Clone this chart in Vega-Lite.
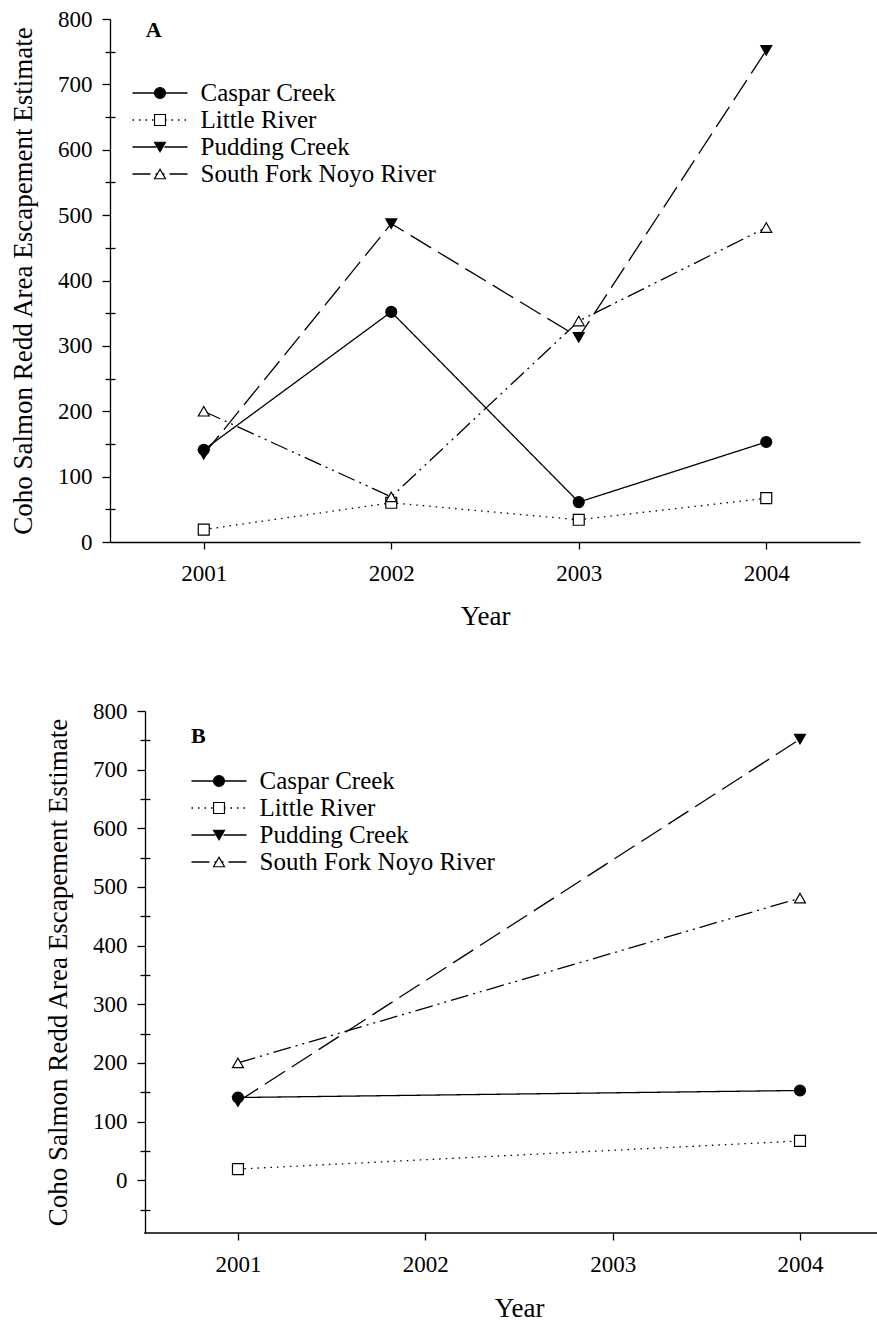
{
  "$schema": "https://vega.github.io/schema/vega-lite/v6.json",
  "background": "white",
  "padding": {"left": 9, "top": 8, "right": 0, "bottom": 0},
  "spacing": 71,
  "config": {
    "font": "Liberation Serif",
    "view": {"stroke": null},
    "style": {"guide-label": {"font": "Liberation Serif"}, "guide-title": {"font": "Liberation Serif"}},
    "axis": {
      "grid": false,
      "domainColor": "black",
      "tickColor": "black",
      "labelColor": "black",
      "titleColor": "black",
      "labelFont": "Liberation Serif",
      "titleFont": "Liberation Serif",
      "titleFontWeight": "normal",
      "labelFontSize": 23,
      "titleFontSize": 27,
      "domainWidth": 1.3,
      "tickWidth": 1.3
    },
    "legend": {
      "labelFont": "Liberation Serif",
      "labelFontSize": 25,
      "labelColor": "black",
      "labelLimit": 400
    }
  },
  "datasets": {
    "escapement": [
      {"year": 2001, "site": "Caspar Creek", "value": 141},
      {"year": 2002, "site": "Caspar Creek", "value": 352},
      {"year": 2003, "site": "Caspar Creek", "value": 61},
      {"year": 2004, "site": "Caspar Creek", "value": 153},
      {"year": 2001, "site": "Little River", "value": 19},
      {"year": 2002, "site": "Little River", "value": 60},
      {"year": 2003, "site": "Little River", "value": 34},
      {"year": 2004, "site": "Little River", "value": 67},
      {"year": 2001, "site": "Pudding Creek", "value": 134},
      {"year": 2002, "site": "Pudding Creek", "value": 487},
      {"year": 2003, "site": "Pudding Creek", "value": 313},
      {"year": 2004, "site": "Pudding Creek", "value": 752},
      {"year": 2001, "site": "South Fork Noyo River", "value": 200},
      {"year": 2002, "site": "South Fork Noyo River", "value": 69},
      {"year": 2003, "site": "South Fork Noyo River", "value": 338},
      {"year": 2004, "site": "South Fork Noyo River", "value": 481}
    ]
  },
  "resolve": {"scale": {"strokeDash": "independent", "shape": "independent", "fill": "independent", "stroke": "independent"}},
  "vconcat": [
    {
      "width": 750,
      "height": 523,
      "data": {"name": "escapement"},
      "layer": [
        {
          "mark": {"type": "line", "color": "black", "strokeWidth": 1.3},
          "encoding": {
            "x": {"field": "year", "type": "quantitative",
              "scale": {"domain": [2000.5, 2004.5], "nice": false, "zero": false},
              "axis": {"values": [2001, 2002, 2003, 2004], "format": "d", "tickSize": 7, "labelPadding": 13, "labelFont": "Liberation Serif", "title": "Year", "titleFont": "Liberation Serif", "titlePadding": 18}},
            "y": {"field": "value", "type": "quantitative",
              "scale": {"domain": [0, 800], "nice": false},
              "axis": {"orient": "left", "values": [0, 100, 200, 300, 400, 500, 600, 700, 800], "tickSize": 8, "labelPadding": 10, "labelFont": "Liberation Serif", "title": "Coho Salmon Redd Area Escapement Estimate", "titleFont": "Liberation Serif", "titlePadding": 20}},
            "strokeDash": {"field": "site", "type": "nominal",
              "scale": {"domain": ["Caspar Creek", "Little River", "Pudding Creek", "South Fork Noyo River"], "range": [[1, 0], [1.5, 5], [24, 8], [18, 5, 2, 5, 2, 5]]},
              "legend": {"orient": "none", "legendX": 21.5, "legendY": 60.5, "title": null, "symbolType": "stroke", "symbolSize": 3025, "symbolStrokeWidth": 1.3, "symbolStrokeColor": "black", "clipHeight": 27, "rowPadding": 0, "labelOffset": 12}}
          }
        },
        {
          "mark": {"type": "point", "filled": true, "strokeWidth": 1.2, "size": 120, "opacity": 1},
          "encoding": {
            "x": {"field": "year", "type": "quantitative"},
            "y": {"field": "value", "type": "quantitative",
              "axis": {"orient": "left", "values": [50, 150, 250, 350, 450, 550, 650, 750], "tickSize": 10, "offset": -5, "labels": false, "domain": false, "title": null}},
            "shape": {"field": "site", "type": "nominal",
              "scale": {"range": ["circle", "square", "triangle-down", "triangle-up"]},
              "legend": {"orient": "none", "legendX": 43.5, "legendY": 60.5, "title": null, "symbolSize": 120, "symbolStrokeWidth": 1.2, "clipHeight": 27, "rowPadding": 0, "labelFontSize": 1, "labelExpr": "''"}},
            "fill": {"field": "site", "type": "nominal",
              "scale": {"range": ["black", "white", "black", "white"]},
              "legend": {"orient": "none", "legendX": 43.5, "legendY": 60.5, "title": null, "symbolSize": 120, "symbolStrokeWidth": 1.2, "clipHeight": 27, "rowPadding": 0, "labelFontSize": 1, "labelExpr": "''"}},
            "stroke": {"field": "site", "type": "nominal",
              "scale": {"range": ["black", "black", "black", "black"]},
              "legend": {"orient": "none", "legendX": 43.5, "legendY": 60.5, "title": null, "symbolSize": 120, "symbolStrokeWidth": 1.2, "clipHeight": 27, "rowPadding": 0, "labelFontSize": 1, "labelExpr": "''"}}
          }
        },
        {
          "data": {"values": [{}]},
          "mark": {"type": "text", "text": "A", "font": "Liberation Serif", "fontSize": 22, "fontWeight": "bold", "align": "left", "baseline": "alphabetic", "color": "black"},
          "encoding": {
            "x": {"datum": 2000.69},
            "y": {"datum": 772, "axis": null}
          }
        }
      ],
      "resolve": {"axis": {"y": "independent"}}
    },
    {
      "width": 767,
      "height": 522,
      "data": {"name": "escapement"},
      "transform": [{"filter": {"field": "year", "oneOf": [2001, 2004]}}],
      "layer": [
        {
          "mark": {"type": "line", "color": "black", "strokeWidth": 1.3},
          "encoding": {
            "x": {"field": "year", "type": "quantitative",
              "scale": {"domain": [2000.317, 2004.411], "nice": false, "zero": false},
              "axis": {"values": [2001, 2002, 2003, 2004], "format": "d", "domain": false, "tickSize": 7, "labelPadding": 13, "labelFont": "Liberation Serif", "title": "Year", "titleFont": "Liberation Serif", "titlePadding": 19, "titleX": 409}},
            "y": {"field": "value", "type": "quantitative",
              "scale": {"domain": [-90, 800], "nice": false},
              "axis": {"orient": "left", "offset": -35, "values": [0, 100, 200, 300, 400, 500, 600, 700, 800], "tickSize": 8, "labelPadding": 10, "labelFont": "Liberation Serif", "title": "Coho Salmon Redd Area Escapement Estimate", "titleFont": "Liberation Serif", "titlePadding": 20}},
            "strokeDash": {"field": "site", "type": "nominal",
              "scale": {"domain": ["Caspar Creek", "Little River", "Pudding Creek", "South Fork Noyo River"], "range": [[1, 0], [1.5, 5], [24, 8], [18, 5, 2, 5, 2, 5]]},
              "legend": {"orient": "none", "legendX": 80.5, "legendY": 56.5, "title": null, "symbolType": "stroke", "symbolSize": 3025, "symbolStrokeWidth": 1.3, "symbolStrokeColor": "black", "clipHeight": 27, "rowPadding": 0, "labelOffset": 12}}
          }
        },
        {
          "mark": {"type": "point", "filled": true, "strokeWidth": 1.2, "size": 120, "opacity": 1},
          "encoding": {
            "x": {"field": "year", "type": "quantitative"},
            "y": {"field": "value", "type": "quantitative",
              "axis": {"orient": "left", "offset": -40, "values": [-50, 50, 150, 250, 350, 450, 550, 650, 750], "tickSize": 10, "labels": false, "domain": false, "title": null}},
            "shape": {"field": "site", "type": "nominal",
              "scale": {"range": ["circle", "square", "triangle-down", "triangle-up"]},
              "legend": {"orient": "none", "legendX": 102.5, "legendY": 56.5, "title": null, "symbolSize": 120, "symbolStrokeWidth": 1.2, "clipHeight": 27, "rowPadding": 0, "labelFontSize": 1, "labelExpr": "''"}},
            "fill": {"field": "site", "type": "nominal",
              "scale": {"range": ["black", "white", "black", "white"]},
              "legend": {"orient": "none", "legendX": 102.5, "legendY": 56.5, "title": null, "symbolSize": 120, "symbolStrokeWidth": 1.2, "clipHeight": 27, "rowPadding": 0, "labelFontSize": 1, "labelExpr": "''"}},
            "stroke": {"field": "site", "type": "nominal",
              "scale": {"range": ["black", "black", "black", "black"]},
              "legend": {"orient": "none", "legendX": 102.5, "legendY": 56.5, "title": null, "symbolSize": 120, "symbolStrokeWidth": 1.2, "clipHeight": 27, "rowPadding": 0, "labelFontSize": 1, "labelExpr": "''"}}
          }
        },
        {
          "data": {"values": [{}]},
          "mark": {"type": "rule", "color": "black", "strokeWidth": 1.3},
          "encoding": {
            "x": {"datum": 2000.5},
            "x2": {"datum": 2004.411},
            "y": {"datum": -90, "axis": null}
          }
        },
        {
          "data": {"values": [{}]},
          "mark": {"type": "text", "text": "B", "font": "Liberation Serif", "fontSize": 22, "fontWeight": "bold", "align": "left", "baseline": "alphabetic", "color": "black"},
          "encoding": {
            "x": {"datum": 2000.749},
            "y": {"datum": 746, "axis": null}
          }
        }
      ],
      "resolve": {"axis": {"y": "independent"}}
    }
  ]
}
